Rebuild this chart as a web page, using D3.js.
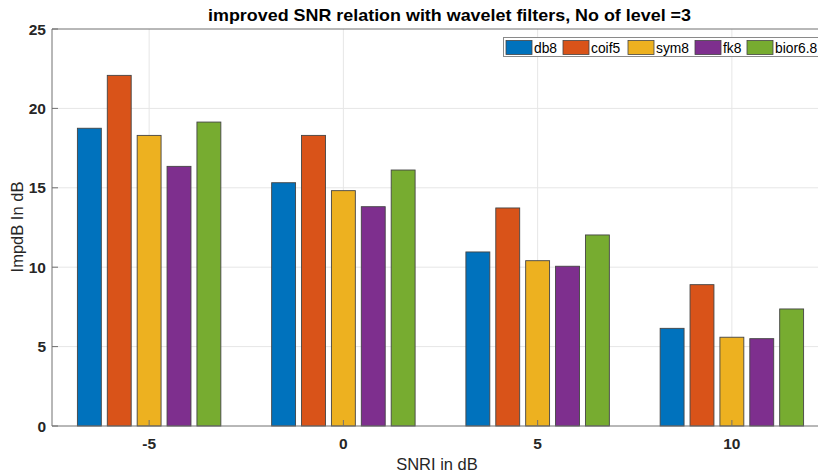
<!DOCTYPE html>
<html>
<head>
<meta charset="utf-8">
<script src="https://cdn.jsdelivr.net/npm/d3@7"></script>
<style>
  html, body { margin: 0; padding: 0; background: #fff; }
  svg { display: block; }
  text { font-family: "Liberation Sans", Arial, sans-serif; }
</style>
</head>
<body>
<svg id="chart" width="818" height="475"></svg>
<script>
// SNR input levels (dB) on the x axis
const snrLevels = [-5, 0, 5, 10];
// wavelet filters, one bar per filter in each group
const filters = ["db8", "coif5", "sym8", "fk8", "bior6.8"];
const filterColors = ["#0072BD", "#D95319", "#EDB120", "#7E2F8E", "#77AC30"];
// improvement in dB for each filter, in snrLevels order
const db8 = [18.75, 15.32, 10.96, 6.15];
const coif5 = [22.08, 18.30, 13.73, 8.90];
const sym8 = [18.30, 14.82, 10.41, 5.59];
const fk8 = [16.35, 13.81, 10.06, 5.50];
const bior68 = [19.14, 16.12, 12.03, 7.37];
const seriesValues = [db8, coif5, sym8, fk8, bior68];
const yTicks = [0, 5, 10, 15, 20, 25];

const svg = d3.select("#chart");
const plotLeft = 52, plotRight = 829, plotTop = 29, plotBottom = 426;

const x = d3.scaleLinear().domain([-7.5, 12.5]).range([plotLeft, plotRight]);
const y = d3.scaleLinear().domain([0, 25]).range([plotBottom, plotTop]);

// grouped bar geometry (group spans ~0.77 of category spacing)
const spacing = 5;
const groupWidth = Math.min(0.8, filters.length / (filters.length + 1.5)) * spacing;
const slot = groupWidth / filters.length;
const barW = slot * 0.8;

// grid
const grid = svg.append("g");
grid.selectAll("line.gy").data(yTicks.slice(1, -1)).join("line")
  .attr("x1", plotLeft).attr("x2", 818)
  .attr("y1", d => y(d)).attr("y2", d => y(d))
  .attr("stroke", "#e6e6e6").attr("stroke-width", 1);
grid.selectAll("line.gx").data(snrLevels).join("line")
  .attr("x1", d => x(d)).attr("x2", d => x(d))
  .attr("y1", plotTop).attr("y2", plotBottom)
  .attr("stroke", "#e6e6e6").attr("stroke-width", 1);

// bars
const bars = svg.append("g");
seriesValues.forEach((vals, i) => {
  bars.selectAll(null).data(vals).join("rect")
    .attr("x", (d, j) => x(snrLevels[j] - groupWidth / 2 + slot * i + (slot - barW) / 2))
    .attr("width", x(barW) - x(0))
    .attr("y", d => y(d))
    .attr("height", d => y(0) - y(d))
    .attr("fill", filterColors[i])
    .attr("stroke", "#444").attr("stroke-width", 0.9);
});

// axes
const axisColor = "#707070";
const ax = svg.append("g");
ax.append("line").attr("x1", plotLeft).attr("x2", 818).attr("y1", plotBottom).attr("y2", plotBottom).attr("stroke", axisColor);
ax.append("line").attr("x1", plotLeft).attr("x2", 818).attr("y1", plotTop).attr("y2", plotTop).attr("stroke", axisColor);
ax.append("line").attr("x1", plotLeft).attr("x2", plotLeft).attr("y1", plotTop).attr("y2", plotBottom).attr("stroke", axisColor);

// inward tick marks
ax.selectAll("line.ty").data(yTicks).join("line")
  .attr("x1", plotLeft).attr("x2", plotLeft + 6)
  .attr("y1", d => y(d)).attr("y2", d => y(d)).attr("stroke", axisColor);
ax.selectAll("line.tx").data(snrLevels).join("line")
  .attr("x1", d => x(d)).attr("x2", d => x(d))
  .attr("y1", plotBottom).attr("y2", plotBottom - 6).attr("stroke", axisColor);

// tick labels
ax.selectAll("text.ly").data(yTicks).join("text")
  .attr("x", 46).attr("y", d => y(d) + 5.5)
  .attr("text-anchor", "end")
  .attr("font-size", 15.5).attr("font-weight", "bold").attr("fill", "#262626")
  .text(d => d);
ax.selectAll("text.lx").data(snrLevels).join("text")
  .attr("x", d => x(d)).attr("y", 449)
  .attr("text-anchor", "middle")
  .attr("font-size", 15.5).attr("font-weight", "bold").attr("fill", "#262626")
  .text(d => d);

// axis titles
svg.append("text")
  .attr("x", 437).attr("y", 470)
  .attr("text-anchor", "middle").attr("font-size", 16.5).attr("fill", "#262626")
  .text("SNRI in dB");
svg.append("text")
  .attr("transform", "translate(23,227) rotate(-90)")
  .attr("text-anchor", "middle").attr("font-size", 16.5).attr("fill", "#262626")
  .text("ImpdB In dB");

// title
svg.append("text")
  .attr("x", 449.5).attr("y", 21)
  .attr("text-anchor", "middle").attr("font-size", 17).attr("font-weight", "bold").attr("fill", "#000")
  .attr("textLength", 483).attr("lengthAdjust", "spacingAndGlyphs")
  .text("improved SNR relation with wavelet filters, No of level =3");

// legend
const lg = svg.append("g");
lg.append("rect").attr("x", 503.5).attr("y", 37.5).attr("width", 330).attr("height", 19)
  .attr("fill", "#fff").attr("stroke", "#8a8a8a");
const swatchX = [506, 563, 628, 695, 747];
filters.forEach((f, i) => {
  lg.append("rect").attr("x", swatchX[i]).attr("y", 40.5).attr("width", 26).attr("height", 14)
    .attr("fill", filterColors[i]).attr("stroke", "#444").attr("stroke-width", 0.8);
  lg.append("text").attr("x", swatchX[i] + 28).attr("y", 52.5)
    .attr("font-size", 13.8).attr("fill", "#000").text(f);
});
</script>
</body>
</html>
